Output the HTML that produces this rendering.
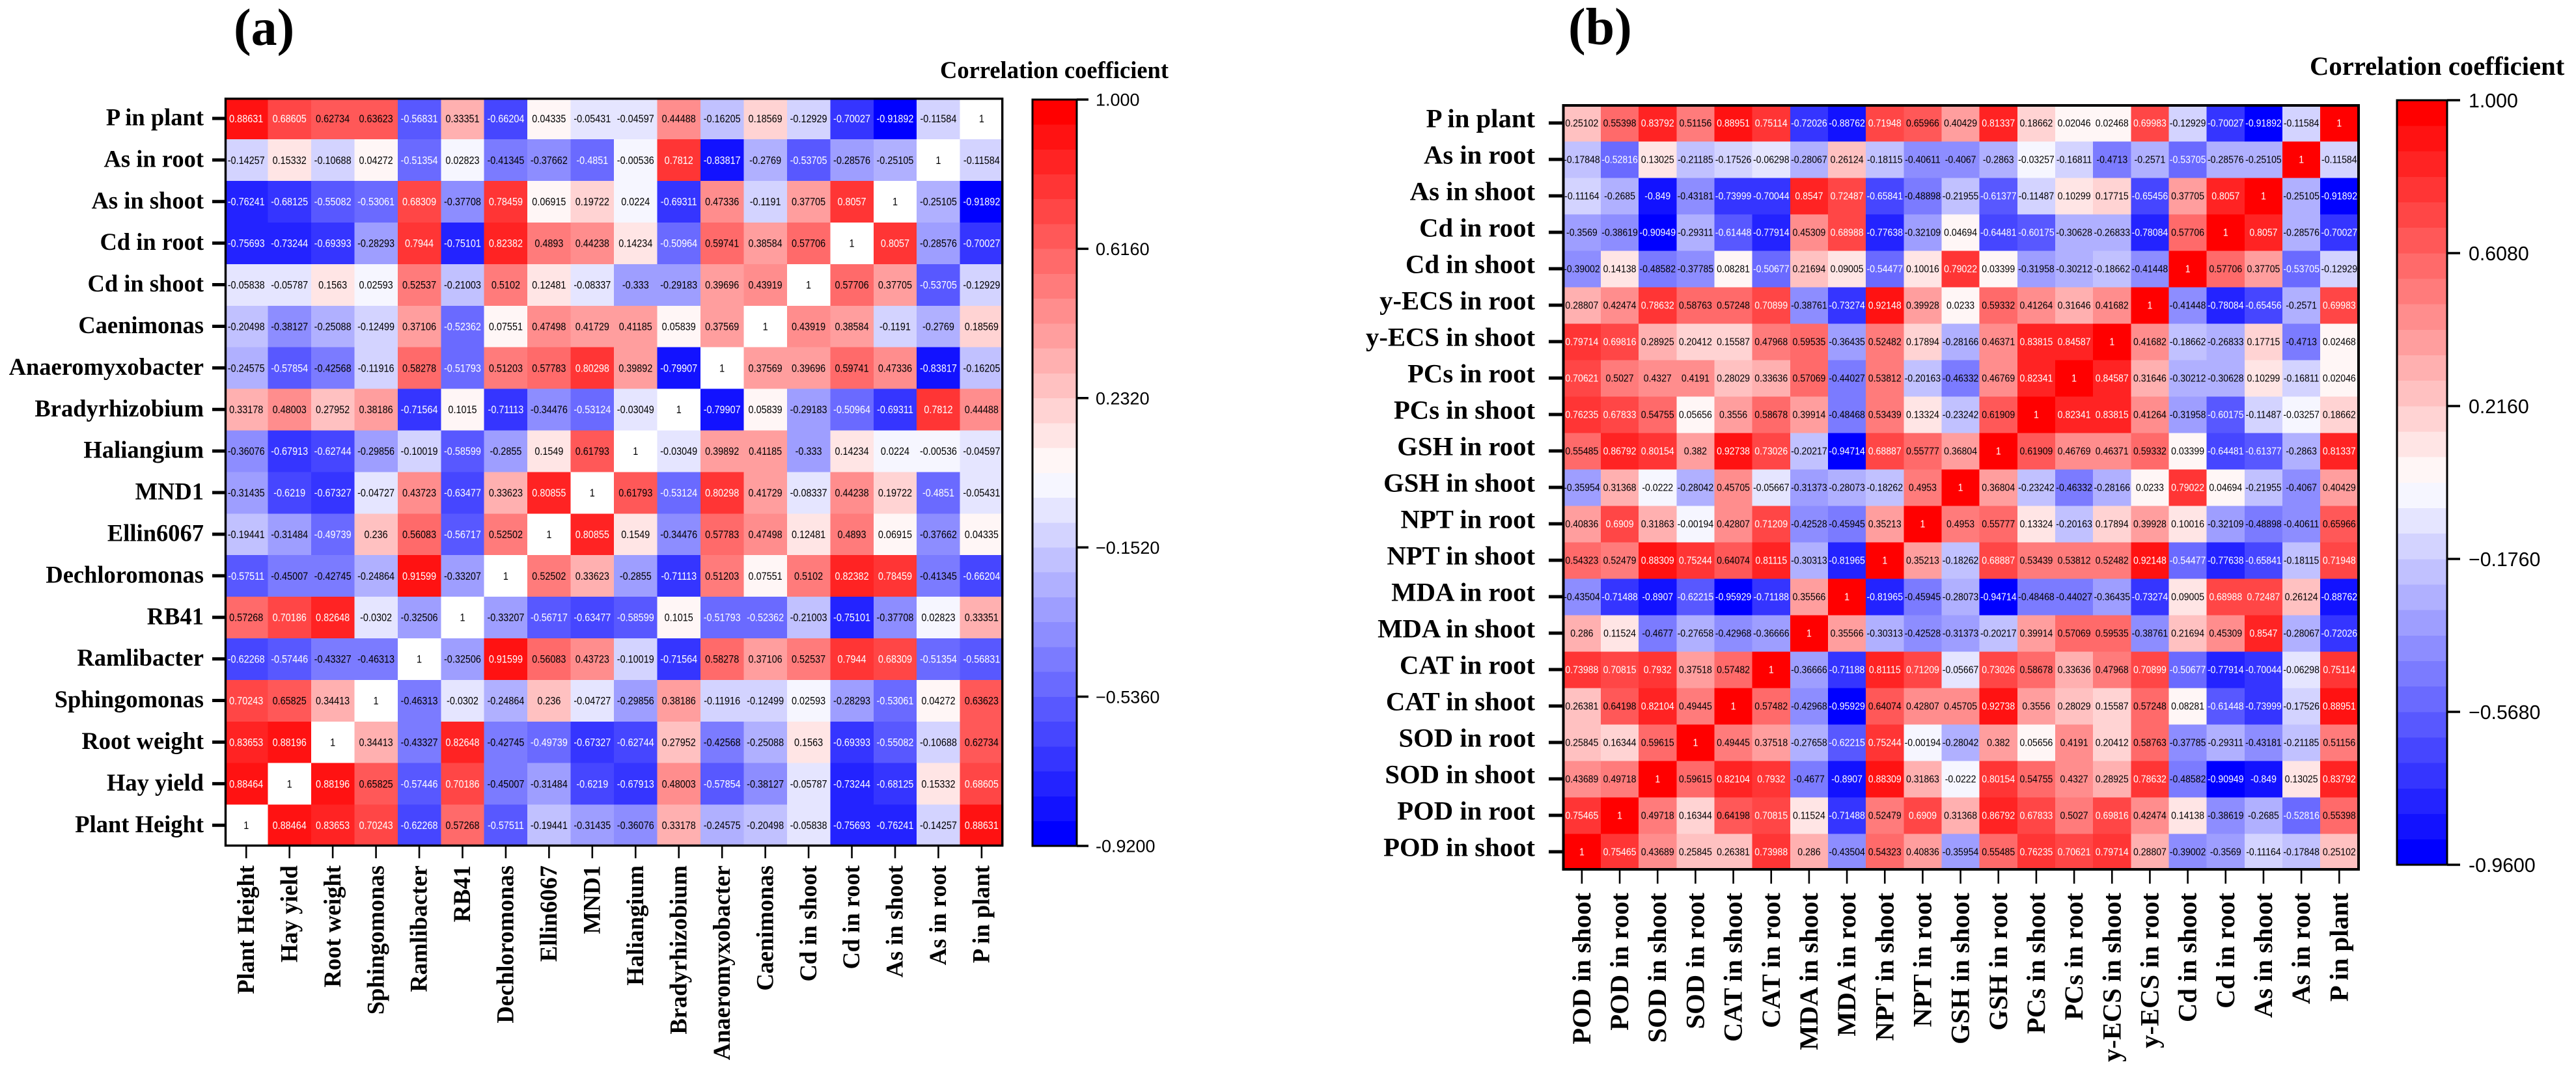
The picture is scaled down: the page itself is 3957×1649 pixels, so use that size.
<!DOCTYPE html>
<html lang="en">
<head>
<meta charset="utf-8">
<title>Correlation heatmaps</title>
<style>
html,body{margin:0;padding:0;background:#fff;}
svg{display:block;}
.serif{font-family:"Liberation Serif",serif;font-weight:bold;fill:#000;}
.sans{font-family:"Liberation Sans",Arial,sans-serif;fill:#000;}
</style>
</head>
<body>
<svg id="chart" xmlns="http://www.w3.org/2000/svg" width="3957" height="1649" viewBox="0 0 3957 1649">
<rect x="0" y="0" width="3957" height="1649" fill="#fff"/>
</svg>
<script>
// ---------- Panel (a) data ----------
const labelsA = ["Plant Height","Hay yield","Root weight","Sphingomonas","Ramlibacter","RB41","Dechloromonas","Ellin6067","MND1","Haliangium","Bradyrhizobium","Anaeromyxobacter","Caenimonas","Cd in shoot","Cd in root","As in shoot","As in root","P in plant"];
const valuesA = [
[1,0.88464,0.83653,0.70243,-0.62268,0.57268,-0.57511,-0.19441,-0.31435,-0.36076,0.33178,-0.24575,-0.20498,-0.05838,-0.75693,-0.76241,-0.14257,0.88631],
[0.88464,1,0.88196,0.65825,-0.57446,0.70186,-0.45007,-0.31484,-0.6219,-0.67913,0.48003,-0.57854,-0.38127,-0.05787,-0.73244,-0.68125,0.15332,0.68605],
[0.83653,0.88196,1,0.34413,-0.43327,0.82648,-0.42745,-0.49739,-0.67327,-0.62744,0.27952,-0.42568,-0.25088,0.1563,-0.69393,-0.55082,-0.10688,0.62734],
[0.70243,0.65825,0.34413,1,-0.46313,-0.0302,-0.24864,0.236,-0.04727,-0.29856,0.38186,-0.11916,-0.12499,0.02593,-0.28293,-0.53061,0.04272,0.63623],
[-0.62268,-0.57446,-0.43327,-0.46313,1,-0.32506,0.91599,0.56083,0.43723,-0.10019,-0.71564,0.58278,0.37106,0.52537,0.7944,0.68309,-0.51354,-0.56831],
[0.57268,0.70186,0.82648,-0.0302,-0.32506,1,-0.33207,-0.56717,-0.63477,-0.58599,0.1015,-0.51793,-0.52362,-0.21003,-0.75101,-0.37708,0.02823,0.33351],
[-0.57511,-0.45007,-0.42745,-0.24864,0.91599,-0.33207,1,0.52502,0.33623,-0.2855,-0.71113,0.51203,0.07551,0.5102,0.82382,0.78459,-0.41345,-0.66204],
[-0.19441,-0.31484,-0.49739,0.236,0.56083,-0.56717,0.52502,1,0.80855,0.1549,-0.34476,0.57783,0.47498,0.12481,0.4893,0.06915,-0.37662,0.04335],
[-0.31435,-0.6219,-0.67327,-0.04727,0.43723,-0.63477,0.33623,0.80855,1,0.61793,-0.53124,0.80298,0.41729,-0.08337,0.44238,0.19722,-0.4851,-0.05431],
[-0.36076,-0.67913,-0.62744,-0.29856,-0.10019,-0.58599,-0.2855,0.1549,0.61793,1,-0.03049,0.39892,0.41185,-0.333,0.14234,0.0224,-0.00536,-0.04597],
[0.33178,0.48003,0.27952,0.38186,-0.71564,0.1015,-0.71113,-0.34476,-0.53124,-0.03049,1,-0.79907,0.05839,-0.29183,-0.50964,-0.69311,0.7812,0.44488],
[-0.24575,-0.57854,-0.42568,-0.11916,0.58278,-0.51793,0.51203,0.57783,0.80298,0.39892,-0.79907,1,0.37569,0.39696,0.59741,0.47336,-0.83817,-0.16205],
[-0.20498,-0.38127,-0.25088,-0.12499,0.37106,-0.52362,0.07551,0.47498,0.41729,0.41185,0.05839,0.37569,1,0.43919,0.38584,-0.1191,-0.2769,0.18569],
[-0.05838,-0.05787,0.1563,0.02593,0.52537,-0.21003,0.5102,0.12481,-0.08337,-0.333,-0.29183,0.39696,0.43919,1,0.57706,0.37705,-0.53705,-0.12929],
[-0.75693,-0.73244,-0.69393,-0.28293,0.7944,-0.75101,0.82382,0.4893,0.44238,0.14234,-0.50964,0.59741,0.38584,0.57706,1,0.8057,-0.28576,-0.70027],
[-0.76241,-0.68125,-0.55082,-0.53061,0.68309,-0.37708,0.78459,0.06915,0.19722,0.0224,-0.69311,0.47336,-0.1191,0.37705,0.8057,1,-0.25105,-0.91892],
[-0.14257,0.15332,-0.10688,0.04272,-0.51354,0.02823,-0.41345,-0.37662,-0.4851,-0.00536,0.7812,-0.83817,-0.2769,-0.53705,-0.28576,-0.25105,1,-0.11584],
[0.88631,0.68605,0.62734,0.63623,-0.56831,0.33351,-0.66204,0.04335,-0.05431,-0.04597,0.44488,-0.16205,0.18569,-0.12929,-0.70027,-0.91892,-0.11584,1]
];
const colorTicksA = [1,0.616,0.232,-0.152,-0.536,-0.92];
const colorTickLabelsA = ["1.000","0.6160","0.2320","\u22120.1520","\u22120.5360","-0.9200"];

// ---------- Panel (b) data ----------
const labelsB = ["POD in shoot","POD in root","SOD in shoot","SOD in root","CAT in shoot","CAT in root","MDA in shoot","MDA in root","NPT in shoot","NPT in root","GSH in shoot","GSH in root","PCs in shoot","PCs in root","y-ECS in shoot","y-ECS in root","Cd in shoot","Cd in root","As in shoot","As in root","P in plant"];
const valuesB = [
[1,0.75465,0.43689,0.25845,0.26381,0.73988,0.286,-0.43504,0.54323,0.40836,-0.35954,0.55485,0.76235,0.70621,0.79714,0.28807,-0.39002,-0.3569,-0.11164,-0.17848,0.25102],
[0.75465,1,0.49718,0.16344,0.64198,0.70815,0.11524,-0.71488,0.52479,0.6909,0.31368,0.86792,0.67833,0.5027,0.69816,0.42474,0.14138,-0.38619,-0.2685,-0.52816,0.55398],
[0.43689,0.49718,1,0.59615,0.82104,0.7932,-0.4677,-0.8907,0.88309,0.31863,-0.0222,0.80154,0.54755,0.4327,0.28925,0.78632,-0.48582,-0.90949,-0.849,0.13025,0.83792],
[0.25845,0.16344,0.59615,1,0.49445,0.37518,-0.27658,-0.62215,0.75244,-0.00194,-0.28042,0.382,0.05656,0.4191,0.20412,0.58763,-0.37785,-0.29311,-0.43181,-0.21185,0.51156],
[0.26381,0.64198,0.82104,0.49445,1,0.57482,-0.42968,-0.95929,0.64074,0.42807,0.45705,0.92738,0.3556,0.28029,0.15587,0.57248,0.08281,-0.61448,-0.73999,-0.17526,0.88951],
[0.73988,0.70815,0.7932,0.37518,0.57482,1,-0.36666,-0.71188,0.81115,0.71209,-0.05667,0.73026,0.58678,0.33636,0.47968,0.70899,-0.50677,-0.77914,-0.70044,-0.06298,0.75114],
[0.286,0.11524,-0.4677,-0.27658,-0.42968,-0.36666,1,0.35566,-0.30313,-0.42528,-0.31373,-0.20217,0.39914,0.57069,0.59535,-0.38761,0.21694,0.45309,0.8547,-0.28067,-0.72026],
[-0.43504,-0.71488,-0.8907,-0.62215,-0.95929,-0.71188,0.35566,1,-0.81965,-0.45945,-0.28073,-0.94714,-0.48468,-0.44027,-0.36435,-0.73274,0.09005,0.68988,0.72487,0.26124,-0.88762],
[0.54323,0.52479,0.88309,0.75244,0.64074,0.81115,-0.30313,-0.81965,1,0.35213,-0.18262,0.68887,0.53439,0.53812,0.52482,0.92148,-0.54477,-0.77638,-0.65841,-0.18115,0.71948],
[0.40836,0.6909,0.31863,-0.00194,0.42807,0.71209,-0.42528,-0.45945,0.35213,1,0.4953,0.55777,0.13324,-0.20163,0.17894,0.39928,0.10016,-0.32109,-0.48898,-0.40611,0.65966],
[-0.35954,0.31368,-0.0222,-0.28042,0.45705,-0.05667,-0.31373,-0.28073,-0.18262,0.4953,1,0.36804,-0.23242,-0.46332,-0.28166,0.0233,0.79022,0.04694,-0.21955,-0.4067,0.40429],
[0.55485,0.86792,0.80154,0.382,0.92738,0.73026,-0.20217,-0.94714,0.68887,0.55777,0.36804,1,0.61909,0.46769,0.46371,0.59332,0.03399,-0.64481,-0.61377,-0.2863,0.81337],
[0.76235,0.67833,0.54755,0.05656,0.3556,0.58678,0.39914,-0.48468,0.53439,0.13324,-0.23242,0.61909,1,0.82341,0.83815,0.41264,-0.31958,-0.60175,-0.11487,-0.03257,0.18662],
[0.70621,0.5027,0.4327,0.4191,0.28029,0.33636,0.57069,-0.44027,0.53812,-0.20163,-0.46332,0.46769,0.82341,1,0.84587,0.31646,-0.30212,-0.30628,0.10299,-0.16811,0.02046],
[0.79714,0.69816,0.28925,0.20412,0.15587,0.47968,0.59535,-0.36435,0.52482,0.17894,-0.28166,0.46371,0.83815,0.84587,1,0.41682,-0.18662,-0.26833,0.17715,-0.4713,0.02468],
[0.28807,0.42474,0.78632,0.58763,0.57248,0.70899,-0.38761,-0.73274,0.92148,0.39928,0.0233,0.59332,0.41264,0.31646,0.41682,1,-0.41448,-0.78084,-0.65456,-0.2571,0.69983],
[-0.39002,0.14138,-0.48582,-0.37785,0.08281,-0.50677,0.21694,0.09005,-0.54477,0.10016,0.79022,0.03399,-0.31958,-0.30212,-0.18662,-0.41448,1,0.57706,0.37705,-0.53705,-0.12929],
[-0.3569,-0.38619,-0.90949,-0.29311,-0.61448,-0.77914,0.45309,0.68988,-0.77638,-0.32109,0.04694,-0.64481,-0.60175,-0.30628,-0.26833,-0.78084,0.57706,1,0.8057,-0.28576,-0.70027],
[-0.11164,-0.2685,-0.849,-0.43181,-0.73999,-0.70044,0.8547,0.72487,-0.65841,-0.48898,-0.21955,-0.61377,-0.11487,0.10299,0.17715,-0.65456,0.37705,0.8057,1,-0.25105,-0.91892],
[-0.17848,-0.52816,0.13025,-0.21185,-0.17526,-0.06298,-0.28067,0.26124,-0.18115,-0.40611,-0.4067,-0.2863,-0.03257,-0.16811,-0.4713,-0.2571,-0.53705,-0.28576,-0.25105,1,-0.11584],
[0.25102,0.55398,0.83792,0.51156,0.88951,0.75114,-0.72026,-0.88762,0.71948,0.65966,0.40429,0.81337,0.18662,0.02046,0.02468,0.69983,-0.12929,-0.70027,-0.91892,-0.11584,1]
];
const colorTicksB = [1,0.608,0.216,-0.176,-0.568,-0.96];
const colorTickLabelsB = ["1.000","0.6080","0.2160","\u22120.1760","\u22120.5680","-0.9600"];

const BANDS = 30;
const SVGNS = "http://www.w3.org/2000/svg";
const root = document.getElementById("chart");

function make(parent, tag, attrs, text) {
  const el = document.createElementNS(SVGNS, tag);
  for (const k in attrs) el.setAttribute(k, attrs[k]);
  if (text !== undefined) el.textContent = text;
  parent.appendChild(el);
  return el;
}
function slug(s) {
  return s.toLowerCase().replace(/[^a-z0-9]+/g, "-");
}
// band index 0 = bottom (pure blue), BANDS-1 = top (pure red)
function bandColor(idx) {
  const half = BANDS / 2;
  if (idx >= half) {
    const g = Math.round((BANDS - 1 - idx) / (half - 0.5) * 255);
    return [255, g, g];
  }
  const g = Math.round(idx / (half - 0.5) * 255);
  return [g, g, 255];
}
function rgb(c) { return "rgb(" + c.join(",") + ")"; }
function luminance(c) { return 0.299 * c[0] + 0.587 * c[1] + 0.114 * c[2]; }

function drawPanel(p) {
  const n = p.labels.length;
  const x = i => p.x0 + i * p.cw;
  const yBottom = i => p.y0 + (n - i) * p.ch; // row 0 sits at the bottom
  const dMin = p.ticks[p.ticks.length - 1], dMax = p.ticks[0];
  const colorIndex = v => Math.max(0, Math.min(BANDS - 1, Math.floor((v - dMin) / (dMax - dMin) * BANDS)));
  const barY = v => p.barTop + (dMax - v) / (dMax - dMin) * (p.barBottom - p.barTop);

  const g = make(root, "g", {});
  
  

  const title = make(g, "text", {class: "serif", x: p.titleX, y: p.titleY, "font-size": p.titleSize}, p.title);
  
  

  // cells
  for (let r = 0; r < n; r++) {
    for (let c = 0; c < n; c++) {
      const v = p.values[r][c];
      const col = (p.diagonalWhite && v >= 1) ? [255, 255, 255] : bandColor(colorIndex(v));
      const top = yBottom(r + 1);
      const rect = make(g, "rect", {x: x(c), y: top, width: p.cw + 0.3, height: p.ch + 0.3, fill: rgb(col), "shape-rendering": "crispEdges"});
      
      
      const tx = x(c) + p.cw / 2 + p.textDx, ty = top + p.ch / 2 + p.textSize * 0.36;
      const txt = make(g, "text", {
        class: "sans",
        "text-anchor": "middle",
        "font-size": p.textSize,
        transform: "translate(" + tx + "," + ty + ") scale(" + p.textScale + ",1)",
        style: "fill:" + (luminance(col) < 130 ? "#fff" : "#000")
      }, String(v));
      
      
    }
  }

  // frame
  const frame = make(g, "rect", {x: p.frame[0], y: p.frame[1], width: p.frame[2], height: p.frame[3], fill: "none", stroke: "#000", "stroke-width": p.frameW});
  
  

  // y axis
  for (let r = 0; r < n; r++) {
    const cy = yBottom(r) - p.ch / 2;
    const tick = make(g, "line", {x1: p.yTickX1, x2: p.yTickX2, y1: cy, y2: cy, stroke: "#000", "stroke-width": 5});
    
    
    const lab = make(g, "text", {class: "serif", x: p.yLabelX, y: cy + p.yLabelDy, "text-anchor": "end", "font-size": p.labelSize}, p.labels[r]);
    
    
  }
  // x axis
  for (let c = 0; c < n; c++) {
    const cx = x(c) + p.cw / 2;
    const tick = make(g, "line", {x1: cx, x2: cx, y1: p.xTickY1, y2: p.xTickY2, stroke: "#000", "stroke-width": 2.6});
    
    
    const bx = cx + p.labelSize * 0.32;
    const lab = make(g, "text", {class: "serif", x: bx, y: p.xLabelY, "text-anchor": "end", "font-size": p.labelSize, transform: "rotate(-90 " + bx + " " + p.xLabelY + ")"}, p.labels[c]);
    
    
  }

  // colour bar
  const barH = (p.barBottom - p.barTop) / BANDS;
  for (let b = 0; b < BANDS; b++) {
    const band = make(g, "rect", {x: p.barX, y: p.barBottom - (b + 1) * barH, width: p.barW, height: barH + 0.3, fill: rgb(bandColor(b)), "shape-rendering": "crispEdges"});
    
    
  }
  const barFrame = make(g, "rect", {x: p.barX, y: p.barTop, width: p.barW, height: p.barBottom - p.barTop, fill: "none", stroke: "#000", "stroke-width": 3});
  
  
  p.ticks.forEach((v, i) => {
    const ty = barY(v);
    const tick = make(g, "line", {x1: p.barX + p.barW, x2: p.barX + p.barW + p.barTick, y1: ty, y2: ty, stroke: "#000", "stroke-width": 3.5});
    
    
    const lab = make(g, "text", {class: "sans", x: p.barLabelX, y: ty + p.barFont * 0.36, "font-size": p.barFont}, p.tickLabels[i]);
    
    
  });
  const cbTitle = make(g, "text", {class: "serif", x: p.cbTitleX, y: p.cbTitleY, "font-size": p.labelSize}, "Correlation coefficient");
  
  
}

drawPanel({
  id: "a", title: "(a)", titleX: 359, titleY: 69, titleSize: 80,
  labels: labelsA, values: valuesA, ticks: colorTicksA, tickLabels: colorTickLabelsA,
  diagonalWhite: true,
  x0: 345, y0: 150, cw: 66.45, ch: 63.9,
  textSize: 16.4, textScale: 0.88, textDx: 0,
  frame: [346.5, 151.7, 1193.2, 1147.8], frameW: 3.4,
  yTickX1: 326, yTickX2: 345, yLabelX: 313, yLabelDy: 10.5, labelSize: 36.5,
  xTickY1: 1301, xTickY2: 1319, xLabelY: 1330,
  barX: 1586, barW: 68, barTop: 153, barBottom: 1300, barTick: 18, barLabelX: 1683, barFont: 27,
  cbTitleX: 1444, cbTitleY: 120
});

drawPanel({
  id: "b", title: "(b)", titleX: 2409, titleY: 68, titleSize: 80,
  labels: labelsB, values: valuesB, ticks: colorTicksB, tickLabels: colorTickLabelsB,
  diagonalWhite: false,
  x0: 2400.8, y0: 161, cw: 58.17, ch: 56,
  textSize: 15.5, textScale: 0.91, textDx: 0,
  frame: [2401.5, 162, 1221.5, 1174], frameW: 4,
  yTickX1: 2379, yTickX2: 2400, yLabelX: 2358, yLabelDy: 6.5, labelSize: 40.7,
  xTickY1: 1338, xTickY2: 1358, xLabelY: 1372,
  barX: 3682, barW: 77, barTop: 154, barBottom: 1329, barTick: 20, barLabelX: 3792, barFont: 30.3,
  cbTitleX: 3548, cbTitleY: 115
});
</script>
</body>
</html>
